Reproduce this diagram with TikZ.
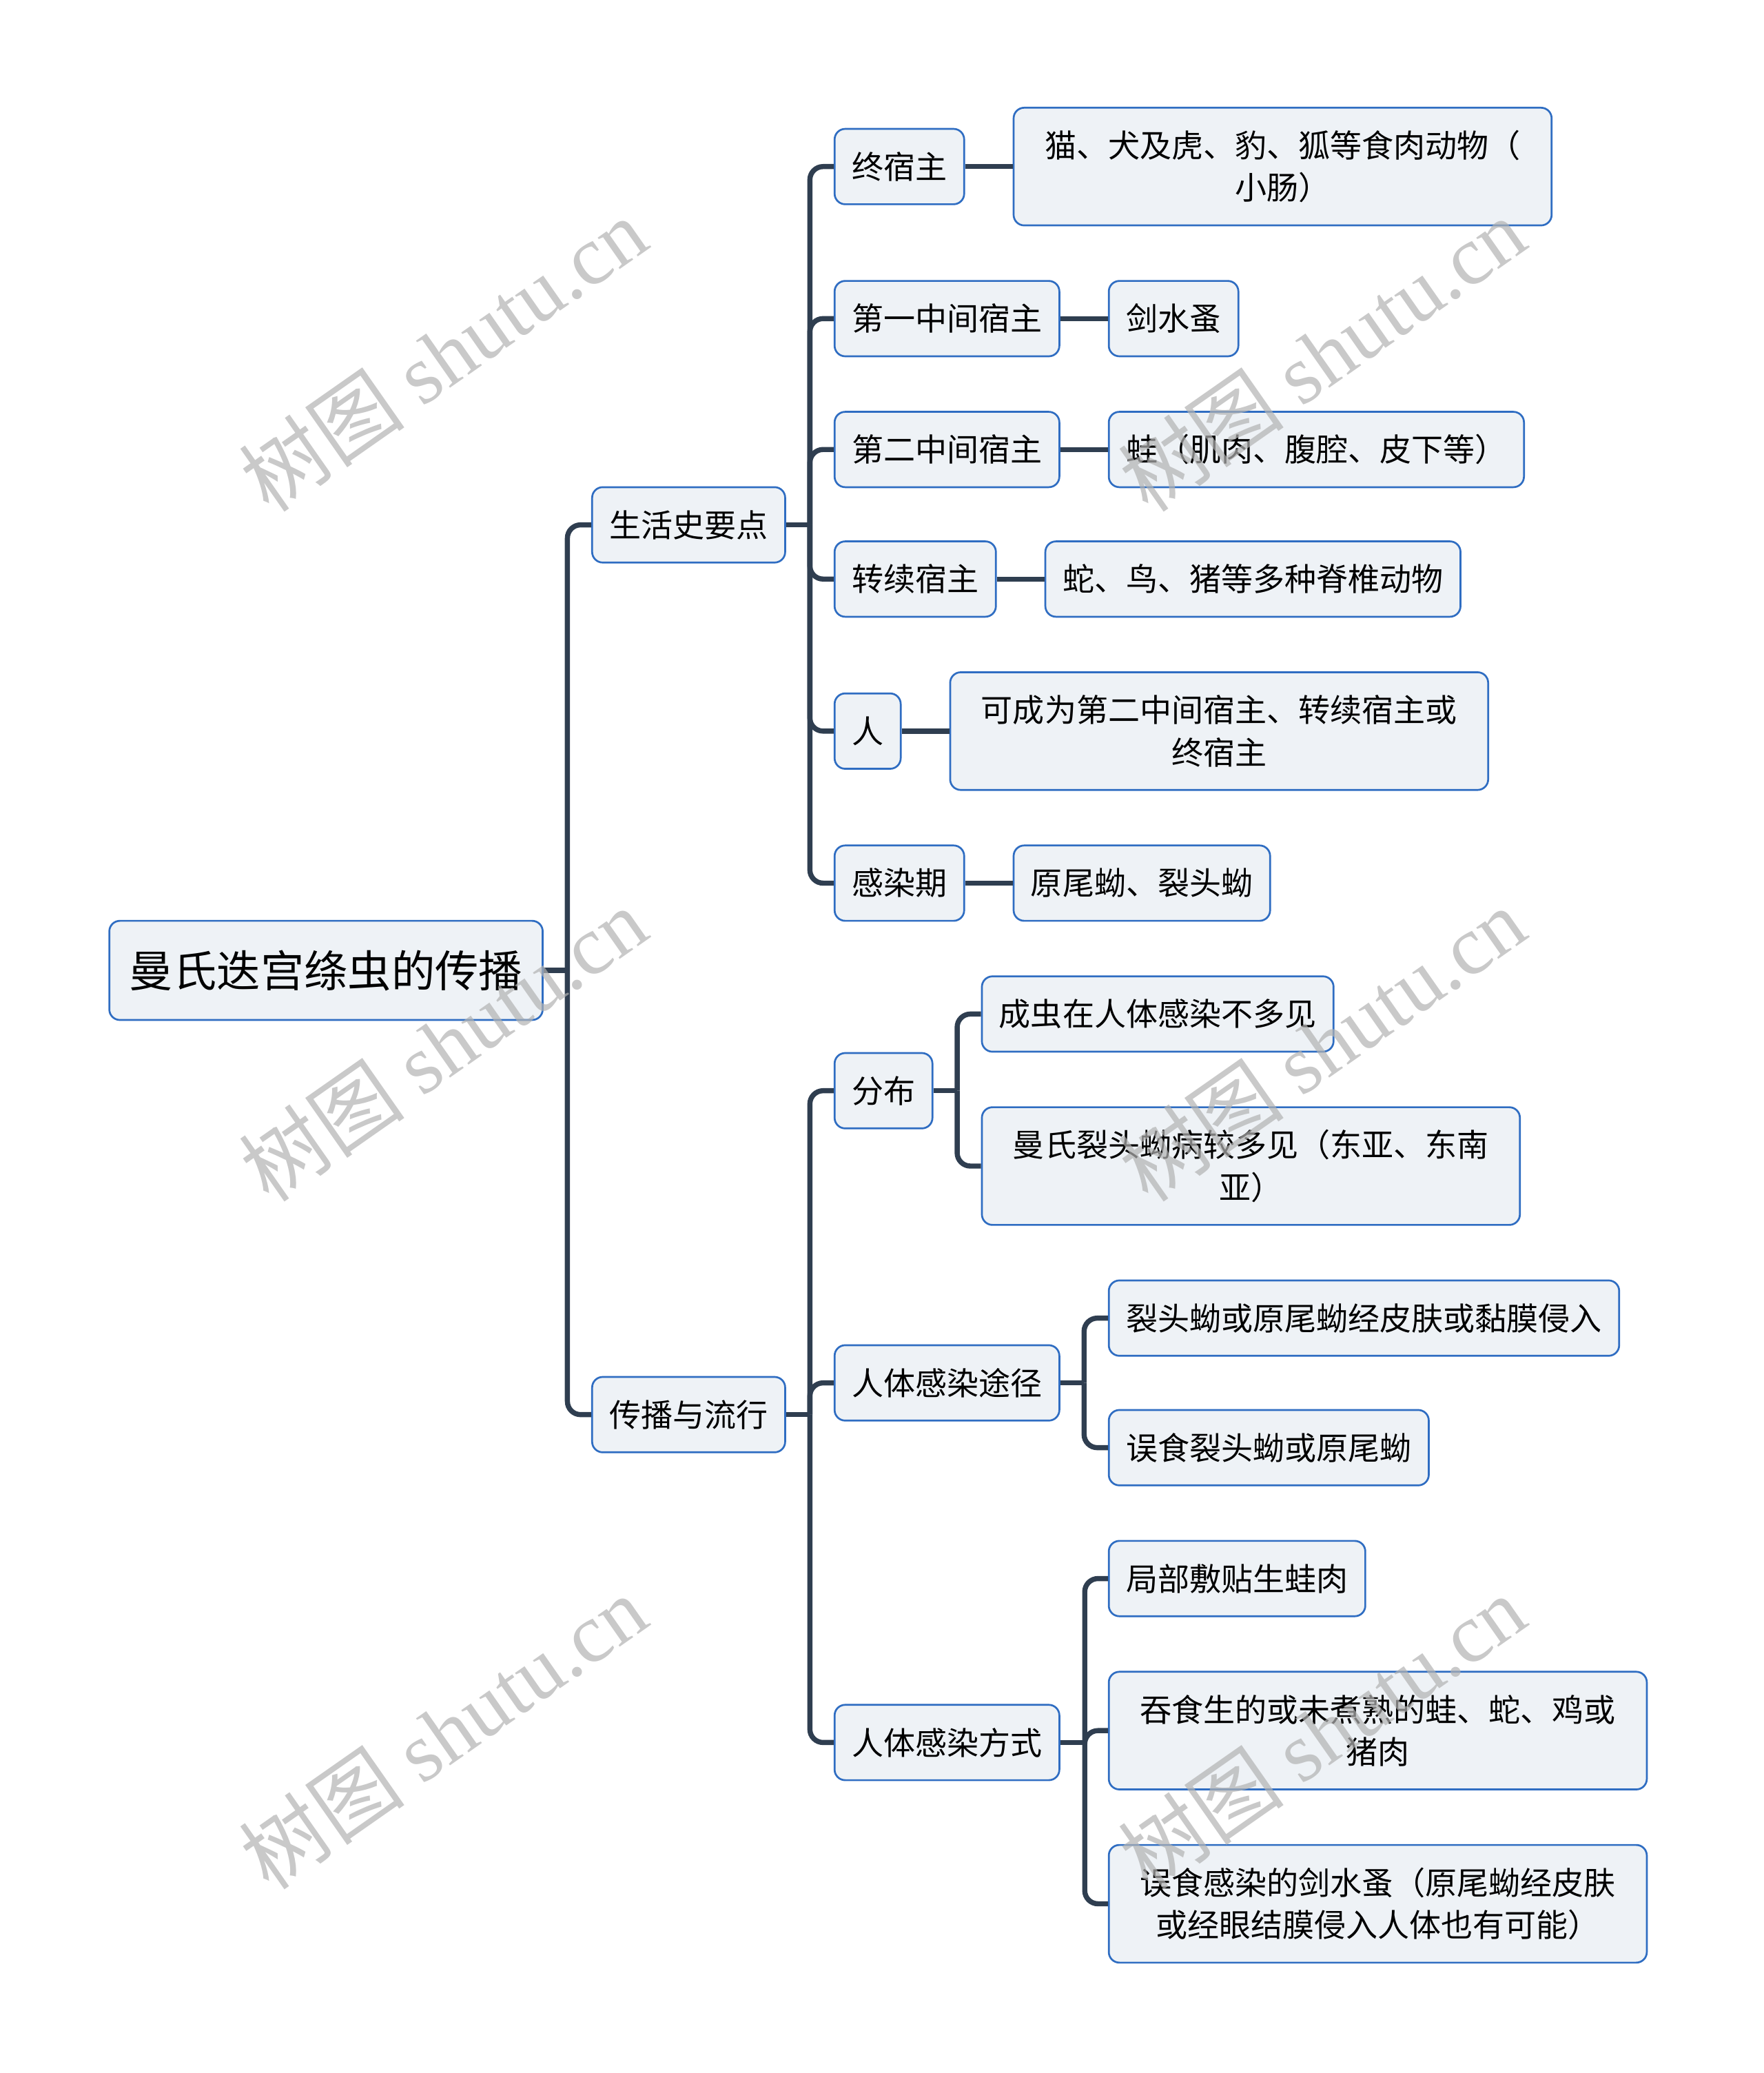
\documentclass[tikz,border=0pt]{standalone}
\usepackage{fontspec}
\setmainfont{Noto Sans CJK SC}
\newfontfamily\wmserif{Liberation Serif}
\usetikzlibrary{positioning}

\definecolor{boxfill}{HTML}{EEF2F6}
\definecolor{boxline}{HTML}{2F6DC2}
\definecolor{linkcol}{HTML}{2F3E50}

\tikzset{
  topic/.style={draw=boxline, fill=boxfill, rounded corners=0.16cm, line width=0.8pt,
    inner xsep=0.26cm, inner ysep=0pt, minimum height=1.14cm,
    font=\fontsize{13.66}{18.2}\selectfont},
  wide/.style={topic, text width=7.62cm, align=center, minimum height=1.78cm},
  rootbox/.style={topic, inner xsep=0.305cm, minimum height=1.5cm,
    font=\fontsize{18.8}{24}\selectfont},
  link/.style={draw=linkcol, line width=2.2pt, rounded corners=0.2cm},
  wmark/.style={rotate=35, text=black!30, opacity=0.7, font=\fontsize{36}{40}\selectfont}
}

\begin{document}
\begin{tikzpicture}[node distance=0.72cm]
   \useasboundingbox (0,0) rectangle (26.68,-31.36);
   \node[rootbox, anchor=west] (root) at (1.64,-14.68) {曼氏迭宫绦虫的传播};
   \node[topic] (life) [right=of root, yshift=6.74cm] {生活史要点};
   \node[topic] (spread) [right=of root, yshift=-6.72cm] {传播与流行};

   % 生活史要点
   \node[topic] (zsz) [right=of life, yshift=5.42cm] {终宿主};
   \node[topic] (dy1) [right=of life, yshift=3.12cm] {第一中间宿主};
   \node[topic] (de2) [right=of life, yshift=1.14cm] {第二中间宿主};
   \node[topic] (zx)  [right=of life, yshift=-0.82cm] {转续宿主};
   \node[topic] (ren) [right=of life, yshift=-3.12cm] {人};
   \node[topic] (grq) [right=of life, yshift=-5.42cm] {感染期};
   \node[wide] (zszA) [right=of zsz] {猫、犬及虎、豹、狐等食肉动物（\\小肠）};
   \node[topic] (dy1A) [right=of dy1] {剑水蚤};
   \node[topic] (de2A) [right=of de2] {蛙（肌肉、腹腔、皮下等）};
   \node[topic] (zxA)  [right=of zx] {蛇、鸟、猪等多种脊椎动物};
   \node[wide] (renA)  [right=of ren] {可成为第二中间宿主、转续宿主或\\终宿主};
   \node[topic] (grqA) [right=of grq] {原尾蚴、裂头蚴};

   % 传播与流行
   \node[topic] (fb) [right=of spread, yshift=4.9cm] {分布};
   \node[topic] (tj) [right=of spread, yshift=0.48cm] {人体感染途径};
   \node[topic] (fs) [right=of spread, yshift=-4.96cm] {人体感染方式};
   \node[topic] (fbA) [right=of fb, yshift=1.16cm] {成虫在人体感染不多见};
   \node[wide]  (fbB) [right=of fb, yshift=-1.14cm] {曼氏裂头蚴病较多见（东亚、东南\\亚）};
   \node[topic] (tjA) [right=of tj, yshift=0.98cm] {裂头蚴或原尾蚴经皮肤或黏膜侵入};
   \node[topic] (tjB) [right=of tj, yshift=-0.98cm] {误食裂头蚴或原尾蚴};
   \node[topic] (fsA) [right=of fs, yshift=2.48cm] {局部敷贴生蛙肉};
   \node[wide]  (fsB) [right=of fs, yshift=0.18cm] {吞食生的或未煮熟的蛙、蛇、鸡或\\猪肉};
   \node[wide]  (fsC) [right=of fs, yshift=-2.44cm] {误食感染的剑水蚤（原尾蚴经皮肤\\或经眼结膜侵入人体也有可能）};

   % connectors
   \draw[link] (root.east) -- ++(0.36,0) coordinate (b0);
   \foreach \n in {life,spread} \draw[link] (b0) |- (\n.west);
   \draw[link] (life.east) -- ++(0.36,0) coordinate (b1);
   \foreach \n in {zsz,dy1,de2,zx,ren,grq} \draw[link] (b1) |- (\n.west);
   \foreach \n in {zsz,dy1,de2,zx,ren,grq} \draw[link] (\n.east) -- (\n A.west);
   \draw[link] (spread.east) -- ++(0.36,0) coordinate (b2);
   \foreach \n in {fb,tj,fs} \draw[link] (b2) |- (\n.west);
   \draw[link] (fb.east) -- ++(0.36,0) coordinate (b3);
   \foreach \n in {fbA,fbB} \draw[link] (b3) |- (\n.west);
   \draw[link] (tj.east) -- ++(0.36,0) coordinate (b4);
   \foreach \n in {tjA,tjB} \draw[link] (b4) |- (\n.west);
   \draw[link] (fs.east) -- ++(0.37,0) coordinate (b5);
   \foreach \n in {fsA,fsB,fsC} \draw[link] (b5) |- (\n.west);

   % watermark
   \foreach \x in {6.7,20}
     \foreach \y in {-5.36,-15.8,-26.2}
       \node[wmark] (wm) at (\x,\y) {树图 {\wmserif shutu.cn}};
\end{tikzpicture}
\end{document}
